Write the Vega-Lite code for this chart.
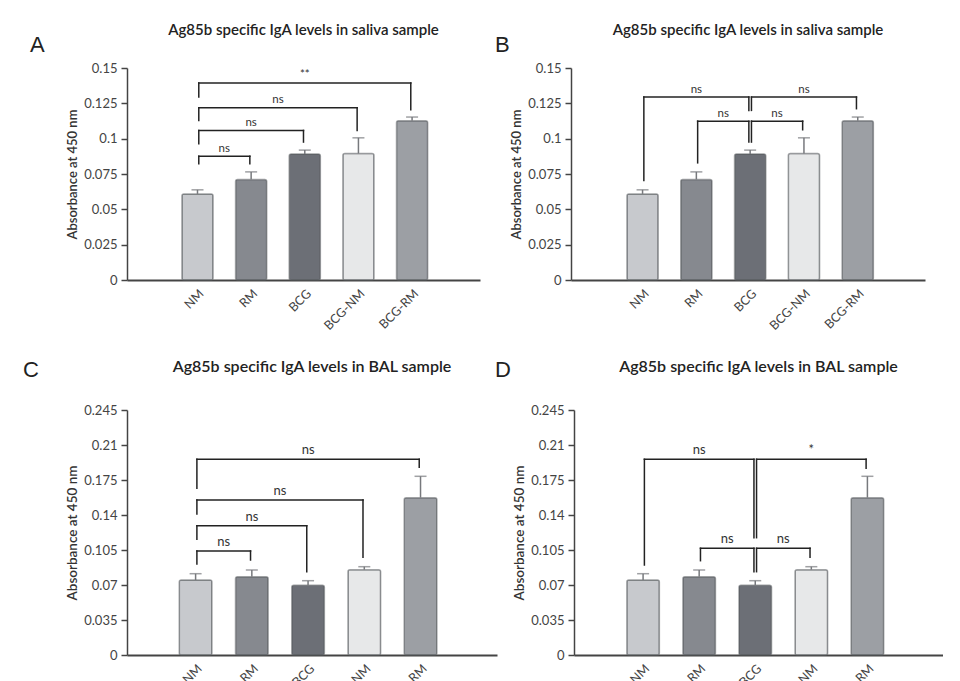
{
  "$schema": "https://vega.github.io/schema/vega-lite/v6.json",
  "padding": {"left": 23, "top": 23, "right": 0, "bottom": 0},
  "background": "white",
  "config": {
    "font": "Lato",
    "view": {"stroke": null},
    "axis": {"grid": false, "domainColor": "#444", "tickColor": "#444", "labelColor": "#444", "titleColor": "#333", "labelFont": "Lato", "titleFont": "Lato"},
    "axisY": {"domainWidth": 1.5, "tickWidth": 1.5, "tickSize": 6, "labelFontSize": 13, "labelPadding": 4, "labelOverlap": false, "labelFlush": false, "titleFontSize": 13, "titleFontWeight": 600, "titlePadding": 4},
    "axisX": {"domainWidth": 2, "ticks": false, "labelAngle": -45, "labelFontSize": 12.5, "labelPadding": 7},
    "title": {"font": "Lato", "fontWeight": 600, "color": "#222"}
  },
  "datasets": {
    "saliva": [
      {"group": "NM", "mean": 0.0609, "upper": 0.0638},
      {"group": "RM", "mean": 0.0711, "upper": 0.0765},
      {"group": "BCG", "mean": 0.0891, "upper": 0.0919},
      {"group": "BCG-NM", "mean": 0.0895, "upper": 0.1006},
      {"group": "BCG-RM", "mean": 0.1127, "upper": 0.1153}
    ],
    "bal": [
      {"group": "NM", "mean": 0.075, "upper": 0.0813},
      {"group": "RM", "mean": 0.0783, "upper": 0.085},
      {"group": "BCG", "mean": 0.0697, "upper": 0.0743},
      {"group": "BCG-NM", "mean": 0.0853, "upper": 0.0883},
      {"group": "BCG-RM", "mean": 0.1573, "upper": 0.1787}
    ],
    "brA": [
      {"from": "NM", "to": "RM", "y": 0.0876, "yFrom": 0.0822, "yTo": 0.0822, "label": "ns"},
      {"from": "NM", "to": "BCG", "y": 0.1058, "yFrom": 0.0964, "yTo": 0.0976, "label": "ns"},
      {"from": "NM", "to": "BCG-NM", "y": 0.1219, "yFrom": 0.1129, "yTo": 0.1058, "label": "ns"},
      {"from": "NM", "to": "BCG-RM", "y": 0.1394, "yFrom": 0.1294, "yTo": 0.1205, "label": "**"}
    ],
    "brB": [
      {"from": "NM", "to": "BCG", "y": 0.1294, "yFrom": 0.0704, "yTo": 0.12, "label": "ns"},
      {"from": "BCG", "to": "BCG-RM", "y": 0.1294, "yFrom": 0.12, "yTo": 0.1212, "label": "ns"},
      {"from": "RM", "to": "BCG", "y": 0.1124, "yFrom": 0.0829, "yTo": 0.0976, "label": "ns"},
      {"from": "BCG", "to": "BCG-NM", "y": 0.1124, "yFrom": 0.0976, "yTo": 0.1063, "label": "ns"}
    ],
    "brC": [
      {"from": "NM", "to": "RM", "y": 0.104, "yFrom": 0.091, "yTo": 0.095, "label": "ns"},
      {"from": "NM", "to": "BCG", "y": 0.1293, "yFrom": 0.1157, "yTo": 0.0833, "label": "ns"},
      {"from": "NM", "to": "BCG-NM", "y": 0.155, "yFrom": 0.141, "yTo": 0.0977, "label": "ns"},
      {"from": "NM", "to": "BCG-RM", "y": 0.1957, "yFrom": 0.1667, "yTo": 0.1877, "label": "ns"}
    ],
    "brD": [
      {"from": "NM", "to": "BCG", "y": 0.1957, "yFrom": 0.09, "yTo": 0.1173, "label": "ns"},
      {"from": "BCG", "to": "BCG-RM", "y": 0.1957, "yFrom": 0.1173, "yTo": 0.1867, "label": "*"},
      {"from": "RM", "to": "BCG", "y": 0.1067, "yFrom": 0.0943, "yTo": 0.0833, "label": "ns"},
      {"from": "BCG", "to": "BCG-NM", "y": 0.1067, "yFrom": 0.0833, "yTo": 0.0977, "label": "ns"}
    ]
  },
  "bounds": "flush",
  "spacing": 342,
  "vconcat": [
    {
      "bounds": "flush",
      "spacing": 444,
      "hconcat": [
        {
          "bounds": "flush",
          "title": {"text": "A", "orient": "top", "anchor": "start", "frame": "group", "align": "left", "baseline": "top", "dx": -97, "offset": -34, "fontSize": 22, "font": "Liberation Sans", "fontWeight": "normal", "color": "#222"},
          "vconcat": [
            {
              "width": 353, "height": 212,
              "title": {"text": "Ag85b specific IgA levels in saliva sample", "fontSize": 15, "offset": 24, "anchor": "middle", "frame": "group"},
              "layer": [
                {"data": {"name": "saliva"}, "mark": {"type": "bar", "stroke": "#5a5c60", "strokeOpacity": 0.55, "strokeWidth": 1.5, "cornerRadius": 2},
                 "encoding": {
                   "x": {"field": "group", "type": "nominal", "title": null, "scale": {"domain": ["NM", "RM", "BCG", "BCG-NM", "BCG-RM"], "paddingInner": 0.42, "paddingOuter": 1.24, "align": 0.512}},
                   "y": {"field": "mean", "type": "quantitative", "title": "Absorbance at 450 nm", "scale": {"domain": [0, 0.15], "nice": false}, "axis": {"values": [0, 0.025, 0.05, 0.075, 0.1, 0.125, 0.15], "tickCount": 20, "format": ".3~f", "labelOverlap": false, "labelFlush": false}},
                   "fill": {"field": "group", "type": "nominal", "scale": {"domain": ["NM", "RM", "BCG", "BCG-NM", "BCG-RM"], "range": ["#c7c9cd", "#86898f", "#6c6f76", "#e7e8e9", "#9c9fa4"]}, "legend": null}
                 }},
                {"data": {"name": "saliva"}, "mark": {"type": "rule", "color": "#77797d", "strokeWidth": 1.5},
                 "encoding": {
                   "x": {"field": "group", "type": "nominal", "title": null, "bandPosition": 0.5},
                   "y": {"field": "mean", "type": "quantitative", "title": "Absorbance at 450 nm"},
                   "y2": {"field": "upper", "title": "Absorbance at 450 nm"}
                 }},
                {"data": {"name": "saliva"}, "mark": {"type": "tick", "orient": "horizontal", "size": 12, "thickness": 1.5, "color": "#77797d"},
                 "encoding": {
                   "x": {"field": "group", "type": "nominal", "title": null},
                   "y": {"field": "upper", "type": "quantitative", "title": "Absorbance at 450 nm"}
                 }},
                {"data": {"name": "brA"}, "mark": {"type": "rule", "color": "#222", "strokeWidth": 1.5, "strokeCap": "square", "xOffset": 1.3, "x2Offset": -1.3},
                 "encoding": {
                   "x": {"field": "from", "type": "nominal", "title": null, "bandPosition": 0.5},
                   "x2": {"field": "to", "title": null},
                   "y": {"field": "y", "type": "quantitative", "title": "Absorbance at 450 nm"}
                 }},
                {"data": {"name": "brA"}, "mark": {"type": "rule", "color": "#222", "strokeWidth": 1.5, "strokeCap": "square", "xOffset": 1.3},
                 "encoding": {
                   "x": {"field": "from", "type": "nominal", "title": null, "bandPosition": 0.5},
                   "y": {"field": "y", "type": "quantitative", "title": "Absorbance at 450 nm"},
                   "y2": {"field": "yFrom", "title": "Absorbance at 450 nm"}
                 }},
                {"data": {"name": "brA"}, "mark": {"type": "rule", "color": "#222", "strokeWidth": 1.5, "strokeCap": "square", "xOffset": -1.3},
                 "encoding": {
                   "x": {"field": "to", "type": "nominal", "title": null, "bandPosition": 0.5},
                   "y": {"field": "y", "type": "quantitative", "title": "Absorbance at 450 nm"},
                   "y2": {"field": "yTo", "title": "Absorbance at 450 nm"}
                 }},
                {"data": {"name": "brA"},
                 "transform": [
                   {"calculate": "(indexof(['NM','RM','BCG','BCG-NM','BCG-RM'], datum.from) + indexof(['NM','RM','BCG','BCG-NM','BCG-RM'], datum.to)) / 2", "as": "m"},
                   {"filter": "datum.m % 1 == 0"},
                   {"calculate": "['NM','RM','BCG','BCG-NM','BCG-RM'][datum.m]", "as": "at"}
                 ],
                 "mark": {"type": "text", "baseline": "alphabetic", "dy": -4.5, "fontSize": 11.5, "color": "#333"},
                 "encoding": {
                   "x": {"field": "at", "type": "nominal", "title": null, "bandPosition": 0.5},
                   "y": {"field": "y", "type": "quantitative", "title": "Absorbance at 450 nm"},
                   "text": {"field": "label"}
                 }},
                {"data": {"name": "brA"},
                 "transform": [
                   {"calculate": "(indexof(['NM','RM','BCG','BCG-NM','BCG-RM'], datum.from) + indexof(['NM','RM','BCG','BCG-NM','BCG-RM'], datum.to)) / 2", "as": "m"},
                   {"filter": "datum.m % 1 != 0"},
                   {"calculate": "['NM','RM','BCG','BCG-NM','BCG-RM'][floor(datum.m)]", "as": "at"}
                 ],
                 "mark": {"type": "text", "baseline": "alphabetic", "dy": -4.5, "fontSize": 11.5, "color": "#333"},
                 "encoding": {
                   "x": {"field": "at", "type": "nominal", "title": null, "bandPosition": 1.362},
                   "y": {"field": "y", "type": "quantitative", "title": "Absorbance at 450 nm"},
                   "text": {"field": "label"}
                 }}
              ]
            }
          ]
        },
        {
          "bounds": "flush",
          "title": {"text": "B", "orient": "top", "anchor": "start", "frame": "group", "align": "left", "baseline": "top", "dx": -76, "offset": -34, "fontSize": 22, "font": "Liberation Sans", "fontWeight": "normal", "color": "#222"},
          "vconcat": [
            {
              "width": 354, "height": 212,
              "title": {"text": "Ag85b specific IgA levels in saliva sample", "fontSize": 15, "offset": 24, "anchor": "middle", "frame": "group"},
              "layer": [
                {"data": {"name": "saliva"}, "mark": {"type": "bar", "stroke": "#5a5c60", "strokeOpacity": 0.55, "strokeWidth": 1.5, "cornerRadius": 2},
                 "encoding": {
                   "x": {"field": "group", "type": "nominal", "title": null, "scale": {"domain": ["NM", "RM", "BCG", "BCG-NM", "BCG-RM"], "paddingInner": 0.42, "paddingOuter": 1.25, "align": 0.52}},
                   "y": {"field": "mean", "type": "quantitative", "title": "Absorbance at 450 nm", "scale": {"domain": [0, 0.15], "nice": false}, "axis": {"values": [0, 0.025, 0.05, 0.075, 0.1, 0.125, 0.15], "tickCount": 20, "format": ".3~f", "labelOverlap": false, "labelFlush": false}},
                   "fill": {"field": "group", "type": "nominal", "scale": {"domain": ["NM", "RM", "BCG", "BCG-NM", "BCG-RM"], "range": ["#c7c9cd", "#86898f", "#6c6f76", "#e7e8e9", "#9c9fa4"]}, "legend": null}
                 }},
                {"data": {"name": "saliva"}, "mark": {"type": "rule", "color": "#77797d", "strokeWidth": 1.5},
                 "encoding": {
                   "x": {"field": "group", "type": "nominal", "title": null, "bandPosition": 0.5},
                   "y": {"field": "mean", "type": "quantitative", "title": "Absorbance at 450 nm"},
                   "y2": {"field": "upper", "title": "Absorbance at 450 nm"}
                 }},
                {"data": {"name": "saliva"}, "mark": {"type": "tick", "orient": "horizontal", "size": 12, "thickness": 1.5, "color": "#77797d"},
                 "encoding": {
                   "x": {"field": "group", "type": "nominal", "title": null},
                   "y": {"field": "upper", "type": "quantitative", "title": "Absorbance at 450 nm"}
                 }},
                {"data": {"name": "brB"}, "mark": {"type": "rule", "color": "#222", "strokeWidth": 1.5, "strokeCap": "square", "xOffset": 1.3, "x2Offset": -1.3},
                 "encoding": {
                   "x": {"field": "from", "type": "nominal", "title": null, "bandPosition": 0.5},
                   "x2": {"field": "to", "title": null},
                   "y": {"field": "y", "type": "quantitative", "title": "Absorbance at 450 nm"}
                 }},
                {"data": {"name": "brB"}, "mark": {"type": "rule", "color": "#222", "strokeWidth": 1.5, "strokeCap": "square", "xOffset": 1.3},
                 "encoding": {
                   "x": {"field": "from", "type": "nominal", "title": null, "bandPosition": 0.5},
                   "y": {"field": "y", "type": "quantitative", "title": "Absorbance at 450 nm"},
                   "y2": {"field": "yFrom", "title": "Absorbance at 450 nm"}
                 }},
                {"data": {"name": "brB"}, "mark": {"type": "rule", "color": "#222", "strokeWidth": 1.5, "strokeCap": "square", "xOffset": -1.3},
                 "encoding": {
                   "x": {"field": "to", "type": "nominal", "title": null, "bandPosition": 0.5},
                   "y": {"field": "y", "type": "quantitative", "title": "Absorbance at 450 nm"},
                   "y2": {"field": "yTo", "title": "Absorbance at 450 nm"}
                 }},
                {"data": {"name": "brB"},
                 "transform": [
                   {"calculate": "(indexof(['NM','RM','BCG','BCG-NM','BCG-RM'], datum.from) + indexof(['NM','RM','BCG','BCG-NM','BCG-RM'], datum.to)) / 2", "as": "m"},
                   {"filter": "datum.m % 1 == 0"},
                   {"calculate": "['NM','RM','BCG','BCG-NM','BCG-RM'][datum.m]", "as": "at"}
                 ],
                 "mark": {"type": "text", "baseline": "alphabetic", "dy": -4.5, "fontSize": 11.5, "color": "#333"},
                 "encoding": {
                   "x": {"field": "at", "type": "nominal", "title": null, "bandPosition": 0.5},
                   "y": {"field": "y", "type": "quantitative", "title": "Absorbance at 450 nm"},
                   "text": {"field": "label"}
                 }},
                {"data": {"name": "brB"},
                 "transform": [
                   {"calculate": "(indexof(['NM','RM','BCG','BCG-NM','BCG-RM'], datum.from) + indexof(['NM','RM','BCG','BCG-NM','BCG-RM'], datum.to)) / 2", "as": "m"},
                   {"filter": "datum.m % 1 != 0"},
                   {"calculate": "['NM','RM','BCG','BCG-NM','BCG-RM'][floor(datum.m)]", "as": "at"}
                 ],
                 "mark": {"type": "text", "baseline": "alphabetic", "dy": -4.5, "fontSize": 11.5, "color": "#333"},
                 "encoding": {
                   "x": {"field": "at", "type": "nominal", "title": null, "bandPosition": 1.362},
                   "y": {"field": "y", "type": "quantitative", "title": "Absorbance at 450 nm"},
                   "text": {"field": "label"}
                 }}
              ]
            }
          ]
        }
      ]
    },
    {
      "bounds": "flush",
      "spacing": 447,
      "hconcat": [
        {
          "bounds": "flush",
          "title": {"text": "C", "orient": "top", "anchor": "start", "frame": "group", "align": "left", "baseline": "top", "dx": -104, "offset": -23, "fontSize": 22, "font": "Liberation Sans", "fontWeight": "normal", "color": "#222"},
          "vconcat": [
            {
              "width": 370, "height": 245,
              "title": {"text": "Ag85b specific IgA levels in BAL sample", "fontSize": 16, "offset": 29, "anchor": "middle", "frame": "group"},
              "layer": [
                {"data": {"name": "bal"}, "mark": {"type": "bar", "stroke": "#5a5c60", "strokeOpacity": 0.55, "strokeWidth": 1.5, "cornerRadius": 2},
                 "encoding": {
                   "x": {"field": "group", "type": "nominal", "title": null, "scale": {"domain": ["NM", "RM", "BCG", "BCG-NM", "BCG-RM"], "paddingInner": 0.42, "paddingOuter": 1.136, "align": 0.465}},
                   "y": {"field": "mean", "type": "quantitative", "title": "Absorbance at 450 nm", "scale": {"domain": [0, 0.245], "nice": false}, "axis": {"titleFontSize": 13.5, "values": [0, 0.035, 0.07, 0.105, 0.14, 0.175, 0.21, 0.245], "tickCount": 20, "format": ".3~f", "labelOverlap": false, "labelFlush": false}},
                   "fill": {"field": "group", "type": "nominal", "scale": {"domain": ["NM", "RM", "BCG", "BCG-NM", "BCG-RM"], "range": ["#c7c9cd", "#86898f", "#6c6f76", "#e7e8e9", "#9c9fa4"]}, "legend": null}
                 }},
                {"data": {"name": "bal"}, "mark": {"type": "rule", "color": "#77797d", "strokeWidth": 1.5},
                 "encoding": {
                   "x": {"field": "group", "type": "nominal", "title": null, "bandPosition": 0.5},
                   "y": {"field": "mean", "type": "quantitative", "title": "Absorbance at 450 nm"},
                   "y2": {"field": "upper", "title": "Absorbance at 450 nm"}
                 }},
                {"data": {"name": "bal"}, "mark": {"type": "tick", "orient": "horizontal", "size": 12, "thickness": 1.5, "color": "#77797d"},
                 "encoding": {
                   "x": {"field": "group", "type": "nominal", "title": null},
                   "y": {"field": "upper", "type": "quantitative", "title": "Absorbance at 450 nm"}
                 }},
                {"data": {"name": "brC"}, "mark": {"type": "rule", "color": "#222", "strokeWidth": 1.5, "strokeCap": "square", "xOffset": 1.3, "x2Offset": -1.3},
                 "encoding": {
                   "x": {"field": "from", "type": "nominal", "title": null, "bandPosition": 0.5},
                   "x2": {"field": "to", "title": null},
                   "y": {"field": "y", "type": "quantitative", "title": "Absorbance at 450 nm"}
                 }},
                {"data": {"name": "brC"}, "mark": {"type": "rule", "color": "#222", "strokeWidth": 1.5, "strokeCap": "square", "xOffset": 1.3},
                 "encoding": {
                   "x": {"field": "from", "type": "nominal", "title": null, "bandPosition": 0.5},
                   "y": {"field": "y", "type": "quantitative", "title": "Absorbance at 450 nm"},
                   "y2": {"field": "yFrom", "title": "Absorbance at 450 nm"}
                 }},
                {"data": {"name": "brC"}, "mark": {"type": "rule", "color": "#222", "strokeWidth": 1.5, "strokeCap": "square", "xOffset": -1.3},
                 "encoding": {
                   "x": {"field": "to", "type": "nominal", "title": null, "bandPosition": 0.5},
                   "y": {"field": "y", "type": "quantitative", "title": "Absorbance at 450 nm"},
                   "y2": {"field": "yTo", "title": "Absorbance at 450 nm"}
                 }},
                {"data": {"name": "brC"},
                 "transform": [
                   {"calculate": "(indexof(['NM','RM','BCG','BCG-NM','BCG-RM'], datum.from) + indexof(['NM','RM','BCG','BCG-NM','BCG-RM'], datum.to)) / 2", "as": "m"},
                   {"filter": "datum.m % 1 == 0"},
                   {"calculate": "['NM','RM','BCG','BCG-NM','BCG-RM'][datum.m]", "as": "at"}
                 ],
                 "mark": {"type": "text", "baseline": "alphabetic", "dy": -5, "fontSize": 13, "color": "#333"},
                 "encoding": {
                   "x": {"field": "at", "type": "nominal", "title": null, "bandPosition": 0.5},
                   "y": {"field": "y", "type": "quantitative", "title": "Absorbance at 450 nm"},
                   "text": {"field": "label"}
                 }},
                {"data": {"name": "brC"},
                 "transform": [
                   {"calculate": "(indexof(['NM','RM','BCG','BCG-NM','BCG-RM'], datum.from) + indexof(['NM','RM','BCG','BCG-NM','BCG-RM'], datum.to)) / 2", "as": "m"},
                   {"filter": "datum.m % 1 != 0"},
                   {"calculate": "['NM','RM','BCG','BCG-NM','BCG-RM'][floor(datum.m)]", "as": "at"}
                 ],
                 "mark": {"type": "text", "baseline": "alphabetic", "dy": -5, "fontSize": 13, "color": "#333"},
                 "encoding": {
                   "x": {"field": "at", "type": "nominal", "title": null, "bandPosition": 1.362},
                   "y": {"field": "y", "type": "quantitative", "title": "Absorbance at 450 nm"},
                   "text": {"field": "label"}
                 }}
              ]
            }
          ]
        },
        {
          "bounds": "flush",
          "title": {"text": "D", "orient": "top", "anchor": "start", "frame": "group", "align": "left", "baseline": "top", "dx": -79, "offset": -23, "fontSize": 22, "font": "Liberation Sans", "fontWeight": "normal", "color": "#222"},
          "vconcat": [
            {
              "width": 369, "height": 245,
              "title": {"text": "Ag85b specific IgA levels in BAL sample", "fontSize": 16, "offset": 29, "anchor": "middle", "frame": "group"},
              "layer": [
                {"data": {"name": "bal"}, "mark": {"type": "bar", "stroke": "#5a5c60", "strokeOpacity": 0.55, "strokeWidth": 1.5, "cornerRadius": 2},
                 "encoding": {
                   "x": {"field": "group", "type": "nominal", "title": null, "scale": {"domain": ["NM", "RM", "BCG", "BCG-NM", "BCG-RM"], "paddingInner": 0.42, "paddingOuter": 1.127, "align": 0.471}},
                   "y": {"field": "mean", "type": "quantitative", "title": "Absorbance at 450 nm", "scale": {"domain": [0, 0.245], "nice": false}, "axis": {"titleFontSize": 13.5, "values": [0, 0.035, 0.07, 0.105, 0.14, 0.175, 0.21, 0.245], "tickCount": 20, "format": ".3~f", "labelOverlap": false, "labelFlush": false}},
                   "fill": {"field": "group", "type": "nominal", "scale": {"domain": ["NM", "RM", "BCG", "BCG-NM", "BCG-RM"], "range": ["#c7c9cd", "#86898f", "#6c6f76", "#e7e8e9", "#9c9fa4"]}, "legend": null}
                 }},
                {"data": {"name": "bal"}, "mark": {"type": "rule", "color": "#77797d", "strokeWidth": 1.5},
                 "encoding": {
                   "x": {"field": "group", "type": "nominal", "title": null, "bandPosition": 0.5},
                   "y": {"field": "mean", "type": "quantitative", "title": "Absorbance at 450 nm"},
                   "y2": {"field": "upper", "title": "Absorbance at 450 nm"}
                 }},
                {"data": {"name": "bal"}, "mark": {"type": "tick", "orient": "horizontal", "size": 12, "thickness": 1.5, "color": "#77797d"},
                 "encoding": {
                   "x": {"field": "group", "type": "nominal", "title": null},
                   "y": {"field": "upper", "type": "quantitative", "title": "Absorbance at 450 nm"}
                 }},
                {"data": {"name": "brD"}, "mark": {"type": "rule", "color": "#222", "strokeWidth": 1.5, "strokeCap": "square", "xOffset": 1.3, "x2Offset": -1.3},
                 "encoding": {
                   "x": {"field": "from", "type": "nominal", "title": null, "bandPosition": 0.5},
                   "x2": {"field": "to", "title": null},
                   "y": {"field": "y", "type": "quantitative", "title": "Absorbance at 450 nm"}
                 }},
                {"data": {"name": "brD"}, "mark": {"type": "rule", "color": "#222", "strokeWidth": 1.5, "strokeCap": "square", "xOffset": 1.3},
                 "encoding": {
                   "x": {"field": "from", "type": "nominal", "title": null, "bandPosition": 0.5},
                   "y": {"field": "y", "type": "quantitative", "title": "Absorbance at 450 nm"},
                   "y2": {"field": "yFrom", "title": "Absorbance at 450 nm"}
                 }},
                {"data": {"name": "brD"}, "mark": {"type": "rule", "color": "#222", "strokeWidth": 1.5, "strokeCap": "square", "xOffset": -1.3},
                 "encoding": {
                   "x": {"field": "to", "type": "nominal", "title": null, "bandPosition": 0.5},
                   "y": {"field": "y", "type": "quantitative", "title": "Absorbance at 450 nm"},
                   "y2": {"field": "yTo", "title": "Absorbance at 450 nm"}
                 }},
                {"data": {"name": "brD"},
                 "transform": [
                   {"calculate": "(indexof(['NM','RM','BCG','BCG-NM','BCG-RM'], datum.from) + indexof(['NM','RM','BCG','BCG-NM','BCG-RM'], datum.to)) / 2", "as": "m"},
                   {"filter": "datum.m % 1 == 0"},
                   {"calculate": "['NM','RM','BCG','BCG-NM','BCG-RM'][datum.m]", "as": "at"}
                 ],
                 "mark": {"type": "text", "baseline": "alphabetic", "dy": -5, "fontSize": 13, "color": "#333"},
                 "encoding": {
                   "x": {"field": "at", "type": "nominal", "title": null, "bandPosition": 0.5},
                   "y": {"field": "y", "type": "quantitative", "title": "Absorbance at 450 nm"},
                   "text": {"field": "label"}
                 }},
                {"data": {"name": "brD"},
                 "transform": [
                   {"calculate": "(indexof(['NM','RM','BCG','BCG-NM','BCG-RM'], datum.from) + indexof(['NM','RM','BCG','BCG-NM','BCG-RM'], datum.to)) / 2", "as": "m"},
                   {"filter": "datum.m % 1 != 0"},
                   {"calculate": "['NM','RM','BCG','BCG-NM','BCG-RM'][floor(datum.m)]", "as": "at"}
                 ],
                 "mark": {"type": "text", "baseline": "alphabetic", "dy": -5, "fontSize": 13, "color": "#333"},
                 "encoding": {
                   "x": {"field": "at", "type": "nominal", "title": null, "bandPosition": 1.362},
                   "y": {"field": "y", "type": "quantitative", "title": "Absorbance at 450 nm"},
                   "text": {"field": "label"}
                 }}
              ]
            }
          ]
        }
      ]
    }
  ]
}
